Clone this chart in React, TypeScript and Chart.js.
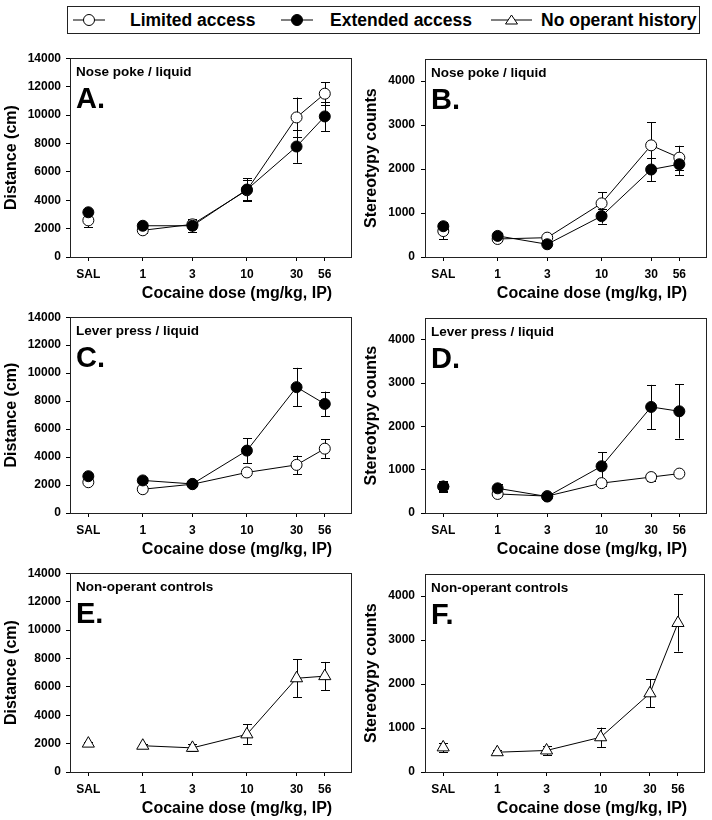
import React, { useEffect, useRef } from 'react';
import { Chart, registerables } from 'chart.js';

Chart.register(...registerables);

// ---------- data ----------
const DOSE_LABELS = ['SAL', '1', '3', '10', '30', '56'];
const DOSE_X = [0.3, 1, 3, 10, 30, 56];

const DIST_TICKS = [0, 2000, 4000, 6000, 8000, 10000, 12000, 14000];
const STEREO_TICKS = [0, 1000, 2000, 3000, 4000];

// A: Nose poke / liquid, distance
const A_LIMITED = [2580, 1880, 2300, 4700, 9830, 11500];
const A_LIMITED_SEM = [470, 200, 300, 700, 1400, 800];
const A_EXTENDED = [3150, 2200, 2200, 4750, 7780, 9900];
const A_EXTENDED_SEM = [150, 150, 450, 800, 1150, 1050];

// B: Nose poke / liquid, stereotypy
const B_LIMITED = [590, 410, 440, 1220, 2540, 2260];
const B_LIMITED_SEM = [180, 50, 40, 250, 530, 270];
const B_EXTENDED = [700, 480, 290, 930, 1990, 2110];
const B_EXTENDED_SEM = [100, 60, 40, 170, 270, 240];

// C: Lever press / liquid, distance
const C_LIMITED = [2200, 1700, 2060, 2900, 3440, 4600];
const C_LIMITED_SEM = [150, 100, 150, 200, 660, 660];
const C_EXTENDED = [2630, 2330, 2080, 4460, 9000, 7800];
const C_EXTENDED_SEM = [200, 200, 200, 880, 1380, 880];

// D: Lever press / liquid, stereotypy
const D_LIMITED = [610, 440, 390, 690, 830, 910];
const D_LIMITED_SEM = [100, 40, 40, 70, 100, 50];
const D_EXTENDED = [610, 570, 380, 1080, 2450, 2350];
const D_EXTENDED_SEM = [130, 90, 40, 320, 510, 630];

// E: Non-operant controls, distance
const E_NOOP = [2000, 1850, 1700, 2650, 6600, 6750];
const E_NOOP_SEM = [80, 100, 250, 700, 1340, 1000];

// F: Non-operant controls, stereotypy
const F_NOOP = [560, 450, 490, 790, 1790, 3390];
const F_NOOP_SEM = [110, 40, 100, 220, 320, 650];

// ---------- styling ----------
const FONT = "'Liberation Sans', Arial, Helvetica, sans-serif";
const X_TITLE = 'Cocaine dose (mg/kg, IP)';

type Series = { label: string; values: number[]; sem: number[]; kind: 'open' | 'filled' | 'triangle' };

const SERIES_STYLE = {
  open: { pointStyle: 'circle', radius: 5.5, fill: '#ffffff', order: 2 },
  filled: { pointStyle: 'circle', radius: 5.5, fill: '#000000', order: 1 },
  triangle: { pointStyle: 'triangle', radius: 7, fill: '#ffffff', order: 1 },
};

const ROWS = [
  { plotTop: 58, plotBottom: 257 },
  { plotTop: 317, plotBottom: 513 },
  { plotTop: 573, plotBottom: 772 },
];
const COLS = [
  { canvasLeft: 0, width: 360, plotLeft: 70, plotRight: 351, titlePad: 2, tickPad: 5 },
  { canvasLeft: 356, width: 356, plotLeft: 425, plotRight: 706, titlePad: 6, tickPad: 6 },
];
const X_AXIS_H = 46;
const TOP_PAD = 12;

type PanelSpec = {
  row: number;
  col: number;
  letter: string;
  subtitle: string;
  yTitle: string;
  yMax: number;
  yTicks: number[];
  series: Series[];
};

const PANELS: PanelSpec[] = [
  {
    row: 0, col: 0, letter: 'A.', subtitle: 'Nose poke / liquid', yTitle: 'Distance (cm)', yMax: 14000, yTicks: DIST_TICKS,
    series: [
      { label: 'Limited access', values: A_LIMITED, sem: A_LIMITED_SEM, kind: 'open' },
      { label: 'Extended access', values: A_EXTENDED, sem: A_EXTENDED_SEM, kind: 'filled' },
    ],
  },
  {
    row: 0, col: 1, letter: 'B.', subtitle: 'Nose poke / liquid', yTitle: 'Stereotypy counts', yMax: 4500, yTicks: STEREO_TICKS,
    series: [
      { label: 'Limited access', values: B_LIMITED, sem: B_LIMITED_SEM, kind: 'open' },
      { label: 'Extended access', values: B_EXTENDED, sem: B_EXTENDED_SEM, kind: 'filled' },
    ],
  },
  {
    row: 1, col: 0, letter: 'C.', subtitle: 'Lever press / liquid', yTitle: 'Distance (cm)', yMax: 14000, yTicks: DIST_TICKS,
    series: [
      { label: 'Limited access', values: C_LIMITED, sem: C_LIMITED_SEM, kind: 'open' },
      { label: 'Extended access', values: C_EXTENDED, sem: C_EXTENDED_SEM, kind: 'filled' },
    ],
  },
  {
    row: 1, col: 1, letter: 'D.', subtitle: 'Lever press / liquid', yTitle: 'Stereotypy counts', yMax: 4500, yTicks: STEREO_TICKS,
    series: [
      { label: 'Limited access', values: D_LIMITED, sem: D_LIMITED_SEM, kind: 'open' },
      { label: 'Extended access', values: D_EXTENDED, sem: D_EXTENDED_SEM, kind: 'filled' },
    ],
  },
  {
    row: 2, col: 0, letter: 'E.', subtitle: 'Non-operant controls', yTitle: 'Distance (cm)', yMax: 14000, yTicks: DIST_TICKS,
    series: [{ label: 'No operant history', values: E_NOOP, sem: E_NOOP_SEM, kind: 'triangle' }],
  },
  {
    row: 2, col: 1, letter: 'F.', subtitle: 'Non-operant controls', yTitle: 'Stereotypy counts', yMax: 4500, yTicks: STEREO_TICKS,
    series: [{ label: 'No operant history', values: F_NOOP, sem: F_NOOP_SEM, kind: 'triangle' }],
  },
];

// ---------- plugin: error bars, frame, panel labels, x title ----------
const decorPlugin = {
  id: 'panelDecor',
  beforeDatasetsDraw(chart: any) {
    const ctx = chart.ctx;
    const yScale = chart.scales.y;
    ctx.save();
    ctx.strokeStyle = '#000';
    ctx.lineWidth = 1;
    chart.data.datasets.forEach((ds: any, di: number) => {
      const meta = chart.getDatasetMeta(di);
      if (!ds.errors) return;
      meta.data.forEach((pt: any, i: number) => {
        const v = ds.data[i].y;
        const e = ds.errors[i];
        if (v == null || !e) return;
        const x = Math.round(pt.x) + 0.5;
        const yTop = yScale.getPixelForValue(v + e);
        const yBot = yScale.getPixelForValue(v - e);
        const cap = 4.5;
        ctx.beginPath();
        ctx.moveTo(x, yTop);
        ctx.lineTo(x, yBot);
        ctx.moveTo(x - cap, Math.round(yTop) + 0.5);
        ctx.lineTo(x + cap, Math.round(yTop) + 0.5);
        ctx.moveTo(x - cap, Math.round(yBot) + 0.5);
        ctx.lineTo(x + cap, Math.round(yBot) + 0.5);
        ctx.stroke();
      });
    });
    ctx.restore();
  },
  afterDraw(chart: any) {
    const opts = chart.options.plugins.panelDecor || {};
    const { ctx, chartArea } = chart;
    const { left, top, right, bottom } = chartArea;
    ctx.save();
    // frame
    ctx.strokeStyle = '#222';
    ctx.lineWidth = 1;
    ctx.strokeRect(Math.round(left) + 0.5, Math.round(top) + 0.5, Math.round(right - left), Math.round(bottom - top));
    ctx.fillStyle = '#000';
    ctx.textAlign = 'left';
    ctx.textBaseline = 'alphabetic';
    // subtitle
    ctx.font = `bold 13.5px ${FONT}`;
    ctx.fillText(opts.subtitle || '', left + 6, top + 18);
    // letter
    ctx.font = `bold 29px ${FONT}`;
    ctx.fillText(opts.letter || '', left + 6, top + 50);
    // x title
    ctx.font = `bold 16px ${FONT}`;
    ctx.textAlign = 'center';
    ctx.fillText(opts.xTitle || '', left + 167, bottom + 41);
    ctx.restore();
  },
};

function makeConfig(p: PanelSpec) {
  const col = COLS[p.col];
  const tickFont = { family: FONT, size: 12, weight: 'bold' as const };
  return {
    type: 'line' as const,
    data: {
      datasets: p.series.map((s) => {
        const st = SERIES_STYLE[s.kind];
        return {
          label: s.label,
          data: DOSE_X.map((x, i) => ({ x, y: s.values[i] })),
          errors: s.sem,
          borderColor: '#000',
          borderWidth: 1,
          pointStyle: st.pointStyle,
          pointRadius: st.radius,
          pointHoverRadius: st.radius,
          pointBackgroundColor: st.fill,
          pointBorderColor: '#000',
          pointBorderWidth: 1,
          tension: 0,
          fill: false,
          order: st.order,
          segment: {
            borderColor: (c: any) => (c.p0DataIndex === 0 ? 'rgba(0,0,0,0)' : '#000'),
          },
        };
      }),
    },
    options: {
      animation: false as const,
      responsive: false,
      events: [],
      layout: { padding: { top: TOP_PAD, right: col.width - (col.plotRight - col.canvasLeft), left: 0, bottom: 0 } },
      plugins: {
        legend: { display: false },
        tooltip: { enabled: false },
        panelDecor: { subtitle: p.subtitle, letter: p.letter, xTitle: X_TITLE },
      },
      scales: {
        x: {
          type: 'logarithmic' as const,
          min: 0.2,
          max: 100,
          afterBuildTicks: (s: any) => {
            s.ticks = DOSE_X.map((v) => ({ value: v }));
          },
          afterFit: (s: any) => {
            s.height = X_AXIS_H;
          },
          ticks: {
            autoSkip: false,
            maxRotation: 0,
            minRotation: 0,
            padding: 6,
            color: '#000',
            font: tickFont,
            callback: (v: any) => {
              const i = DOSE_X.indexOf(Number(v));
              return i >= 0 ? DOSE_LABELS[i] : '';
            },
          },
          grid: { drawOnChartArea: false, drawTicks: true, tickLength: 4, color: '#000' },
          border: { display: false },
        },
        y: {
          type: 'linear' as const,
          min: 0,
          max: p.yMax,
          afterBuildTicks: (s: any) => {
            s.ticks = p.yTicks.map((v) => ({ value: v }));
          },
          afterFit: (s: any) => {
            s.width = col.plotLeft - col.canvasLeft;
          },
          ticks: { padding: col.tickPad, color: '#000', font: tickFont, callback: (v: any) => String(v) },
          grid: { drawOnChartArea: false, drawTicks: true, tickLength: 4, color: '#000' },
          border: { display: false },
          title: {
            display: true,
            text: p.yTitle,
            color: '#000',
            font: { family: FONT, size: 16, weight: 'bold' as const },
            padding: { top: col.titlePad, bottom: 0 },
          },
        },
      },
    },
    plugins: [decorPlugin],
  };
}

function Panel({ spec }: { spec: PanelSpec }) {
  const ref = useRef<HTMLCanvasElement>(null);
  const col = COLS[spec.col];
  const row = ROWS[spec.row];
  const top = row.plotTop - TOP_PAD;
  const height = row.plotBottom + X_AXIS_H - top;
  useEffect(() => {
    if (!ref.current) return;
    const chart = new Chart(ref.current, makeConfig(spec) as any);
    return () => chart.destroy();
  }, [spec]);
  return (
    <canvas
      ref={ref}
      width={col.width}
      height={height}
      style={{ position: 'absolute', left: col.canvasLeft, top, width: col.width, height }}
    />
  );
}

function Marker({ kind, w }: { kind: 'open' | 'filled' | 'triangle'; w: number }) {
  const c = w / 2;
  return (
    <svg width={w} height={26} style={{ position: 'absolute', top: 0 }}>
      <line x1={0} y1={13} x2={w} y2={13} stroke="#000" strokeWidth={1} />
      {kind === 'triangle' ? (
        <polygon points={`${c - 6},17 ${c + 6},17 ${c},8`} fill="#fff" stroke="#000" strokeWidth={1} />
      ) : (
        <circle cx={c} cy={13} r={5.5} fill={kind === 'open' ? '#fff' : '#000'} stroke="#000" strokeWidth={1} />
      )}
    </svg>
  );
}

function Legend() {
  const text: React.CSSProperties = {
    position: 'absolute',
    top: 0,
    lineHeight: '26px',
    whiteSpace: 'nowrap',
    fontFamily: FONT,
    fontWeight: 'bold',
    fontSize: '17.5px',
    color: '#000',
  };
  return (
    <div
      style={{
        position: 'absolute',
        left: 67,
        top: 6,
        width: 633,
        height: 28,
        border: '1px solid #222',
        boxSizing: 'border-box',
        background: '#fff',
      }}
    >
      <div style={{ position: 'absolute', left: 5, top: 0 }}><Marker kind="open" w={32} /></div>
      <span style={{ ...text, left: 62 }}>Limited access</span>
      <div style={{ position: 'absolute', left: 213, top: 0 }}><Marker kind="filled" w={32} /></div>
      <span style={{ ...text, left: 262 }}>Extended access</span>
      <div style={{ position: 'absolute', left: 423, top: 0 }}><Marker kind="triangle" w={41} /></div>
      <span style={{ ...text, left: 473 }}>No operant history</span>
    </div>
  );
}

export default function App() {
  return (
    <div style={{ position: 'absolute', left: 0, top: 0, width: 712, height: 820, background: '#fff', overflow: 'hidden' }}>
      <Legend />
      {PANELS.map((p) => (
        <Panel key={p.letter} spec={p} />
      ))}
    </div>
  );
}
